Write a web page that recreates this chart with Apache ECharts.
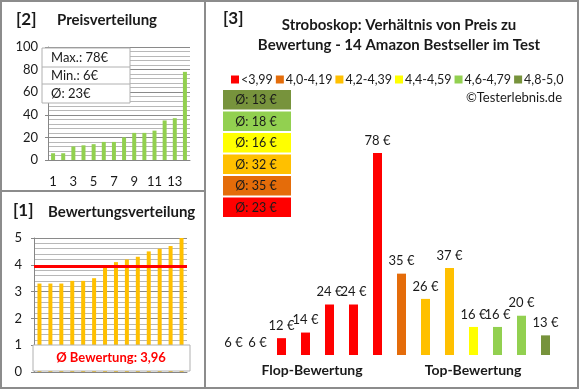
<!DOCTYPE html>
<html>
<head>
<meta charset="utf-8">
<script src="https://cdn.jsdelivr.net/npm/echarts@6/dist/echarts.min.js"></script>
<style>
html,body{margin:0;padding:0;background:#fff;}
#c{width:580px;height:390px;}
</style>
</head>
<body>
<div id="c"></div>
<script>
// ---- data ----
var productIndex = ['1','2','3','4','5','6','7','8','9','10','11','12','13','14'];
var pricesSorted = [6, 6, 12, 13, 14, 16, 16, 20, 24, 24, 26, 35, 37, 78];
var ratingsSorted = [3.3, 3.3, 3.3, 3.4, 3.4, 3.5, 3.9, 4.1, 4.2, 4.3, 4.5, 4.6, 4.7, 5.0];
var ratingClasses = ['<3,99', '4,0-4,19', '4,2-4,39', '4,4-4,59', '4,6-4,79', '4,8-5,0'];
var classColors = ['#FF0000', '#E46C0A', '#FFC000', '#FFFF00', '#92D050', '#77933C'];
var pricesByRating = [6, 6, 12, 14, 24, 24, 78, 35, 26, 37, 16, 16, 20, 13];
var classOfProduct = [0, 0, 0, 0, 0, 0, 0, 1, 2, 2, 3, 4, 4, 5];

// ---- derived ----
var pMax = Math.max.apply(null, pricesSorted);
var pMin = Math.min.apply(null, pricesSorted);
var pAvg = Math.round(pricesSorted.reduce(function(a,b){return a+b;},0) / pricesSorted.length);
var rAvg = ratingsSorted.reduce(function(a,b){return a+b;},0) / ratingsSorted.length;
var rAvgStr = rAvg.toFixed(2).replace('.', ',');
var classAvg = ratingClasses.map(function(_, g){
  var s = 0, n = 0;
  pricesByRating.forEach(function(p, i){ if (classOfProduct[i] === g) { s += p; n++; } });
  return Math.round(s / n);
});

var FONT = 'Lato, "Open Sans", sans-serif';
var txtCol = '#1a1a1a';
var chart = echarts.init(document.getElementById('c'), null, {renderer: 'canvas'});

var rightSeries = ratingClasses.map(function(name, g){
  return {
    name: name, type: 'bar', xAxisIndex: 2, yAxisIndex: 2,
    barWidth: 9, barGap: '-100%',
    itemStyle: {color: classColors[g]},
    label: {show: true, position: 'top', distance: 6, formatter: '{c} €',
            fontFamily: FONT, fontSize: 13, color: txtCol},
    data: pricesByRating.map(function(p, i){ return classOfProduct[i] === g ? p : '-'; })
  };
});

var gl = [];
// panel borders
gl.push({type:'rect', shape:{x:1,y:1,width:577,height:387}, style:{fill:'none', stroke:'#8c8c8c', lineWidth:2}, z:100});
gl.push({type:'line', shape:{x1:205,y1:1,x2:205,y2:388}, style:{stroke:'#8c8c8c', lineWidth:2}, z:100});
gl.push({type:'line', shape:{x1:1,y1:191,x2:205,y2:191}, style:{stroke:'#8c8c8c', lineWidth:2}, z:100});
// titles
function txt(x, y, s, size, bold, align, color){
  return {type:'text', x:x, y:y, z:50, style:{text:s, fontFamily:FONT, fontSize:size, fontWeight:bold?'bold':'normal',
    fill:color||txtCol, textAlign:align||'left', textVerticalAlign:'middle'}};
}
gl.push(txt(16, 20, '[2]', 17, true));
gl.push(txt(57, 20, 'Preisverteilung', 15, true));
gl.push(txt(13, 211, '[1]', 17, true));
gl.push(txt(48, 212, 'Bewertungsverteilung', 15, true));
gl.push(txt(223, 19, '[3]', 17, true));
gl.push(txt(399, 25, 'Stroboskop: Verhältnis von Preis zu', 15, true, 'center'));
gl.push(txt(399, 45, 'Bewertung - 14 Amazon Bestseller im Test', 15, true, 'center'));
gl.push(txt(562, 98, '©Testerlebnis.de', 13, false, 'right'));
gl.push(txt(312, 370, 'Flop-Bewertung', 14, true, 'center'));
gl.push(txt(473, 370, 'Top-Bewertung', 14, true, 'center'));
// info box top-left
gl.push({type:'rect', shape:{x:42,y:48,width:88,height:55}, style:{fill:'#fff', stroke:'#b0b0b0', lineWidth:1}, z:40});
gl.push({type:'line', shape:{x1:42,y1:67,x2:130,y2:67}, style:{stroke:'#b0b0b0', lineWidth:1}, z:41});
gl.push({type:'line', shape:{x1:42,y1:84,x2:130,y2:84}, style:{stroke:'#b0b0b0', lineWidth:1}, z:41});
gl.push(txt(51, 58, 'Max.: ' + pMax + '€', 13, false));
gl.push(txt(51, 76, 'Min.: ' + pMin + '€', 13, false));
gl.push(txt(51, 94, 'Ø: ' + pAvg + '€', 13, false));
// rating average box
gl.push({type:'rect', shape:{x:33,y:345,width:157,height:26}, style:{fill:'#fff', stroke:'#b0b0b0', lineWidth:1}, z:40});
gl.push(txt(111, 358, 'Ø Bewertung: ' + rAvgStr, 13, true, 'center', '#FF0000'));
// class average boxes (top = best class)
for (var k = 0; k < ratingClasses.length; k++) {
  var g = ratingClasses.length - 1 - k;
  var y0 = 90 + k * 21.5;
  gl.push({type:'rect', shape:{x:223,y:y0,width:68,height:19.5}, style:{fill:classColors[g]}, z:40});
  gl.push(txt(256, y0 + 10, 'Ø: ' + classAvg[g] + ' €', 12.5, false, 'center'));
}

var option = {
  animation: false,
  backgroundColor: '#fff',
  textStyle: {fontFamily: FONT},
  legend: {
    data: ratingClasses, left: 226, top: 68, width: 400, icon: 'rect', itemWidth: 8, itemHeight: 8, itemGap: 3,
    textStyle: {fontFamily: FONT, fontSize: 12.5, color: txtCol, padding: [0,0,0,-3]}
  },
  grid: [
    {left: 48, right: 390, top: 47, bottom: 230},
    {left: 34, right: 393, top: 238, bottom: 18},
    {left: 221.5, right: 22.5, top: 147.4, bottom: 35}
  ],
  xAxis: [
    {gridIndex: 0, type: 'category', data: productIndex,
     axisLine: {lineStyle: {color: '#868686'}}, axisTick: {show: false},
     axisLabel: {interval: 1, margin: 15, fontSize: 13, fontFamily: FONT, color: txtCol}},
    {gridIndex: 1, type: 'category', data: productIndex,
     axisLine: {lineStyle: {color: '#868686'}}, axisTick: {show: false}, axisLabel: {show: false}},
    {gridIndex: 2, type: 'category', data: productIndex, show: false}
  ],
  yAxis: [
    {gridIndex: 0, type: 'value', min: 0, max: 100, interval: 20,
     axisLine: {show: true, lineStyle: {color: '#868686'}}, axisTick: {show: true, length: 3, lineStyle: {color: '#868686'}},
     axisLabel: {fontSize: 13, fontFamily: FONT, color: txtCol, margin: 10},
     splitLine: {lineStyle: {color: '#8a8a8a'}},
     minorTick: {show: false, splitNumber: 5},
     minorSplitLine: {show: true, lineStyle: {color: '#b8b8b8'}}},
    {gridIndex: 1, type: 'value', min: 0, max: 5, interval: 1,
     axisLine: {show: true, lineStyle: {color: '#868686'}}, axisTick: {show: true, length: 3, lineStyle: {color: '#868686'}},
     axisLabel: {fontSize: 13, fontFamily: FONT, color: txtCol, margin: 12},
     splitLine: {lineStyle: {color: '#8a8a8a'}},
     minorTick: {show: false, splitNumber: 5},
     minorSplitLine: {show: true, lineStyle: {color: '#b8b8b8'}}},
    {gridIndex: 2, type: 'value', min: 6, max: 80, show: false}
  ],
  series: [
    {type: 'bar', xAxisIndex: 0, yAxisIndex: 0, barWidth: 4, itemStyle: {color: '#92D050'}, data: pricesSorted},
    {type: 'bar', xAxisIndex: 1, yAxisIndex: 1, barWidth: 4, itemStyle: {color: '#FFC000'}, data: ratingsSorted,
     markLine: {silent: true, symbol: 'none', label: {show: false},
                lineStyle: {color: '#FF0000', width: 3, type: 'solid'},
                data: [{yAxis: Number(rAvg.toFixed(2))}]}}
  ].concat(rightSeries),
  graphic: gl
};
chart.setOption(option);
</script>
</body>
</html>
